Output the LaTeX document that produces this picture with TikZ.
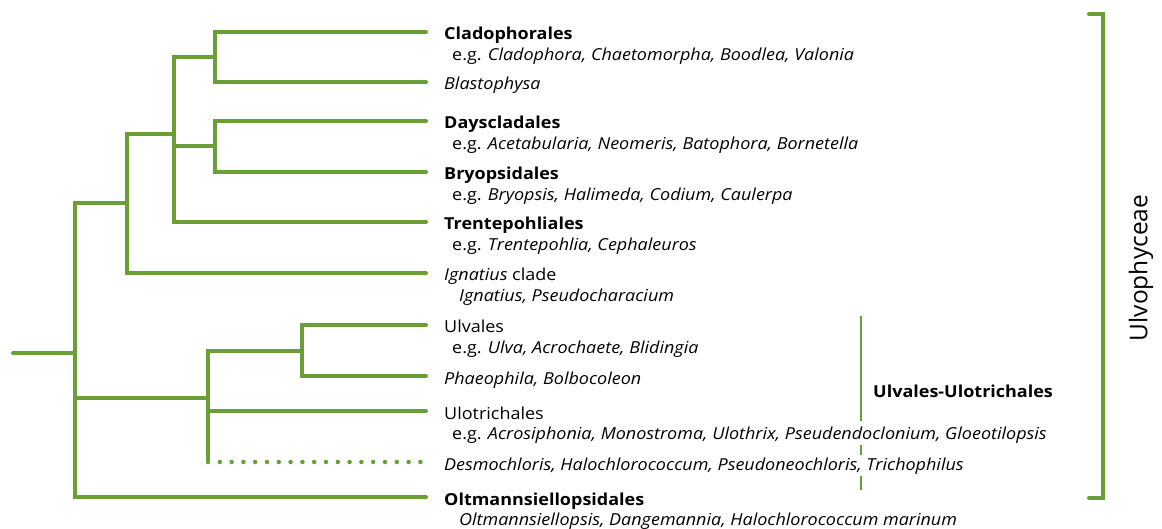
\documentclass[tikz,border=0pt]{standalone}
\usepackage{fontspec}
\setmainfont{Open Sans}[FakeStretch=1.09]
\newfontfamily\classfont{Open Sans}
\usetikzlibrary{positioning}
\definecolor{ulvaGreen}{RGB}{106,158,54}

\begin{document}
\begin{tikzpicture}[x=1pt, y=-1pt,
  branch/.style={draw=ulvaGreen, line width=4pt, line cap=round},
  dotbranch/.style={branch, line width=4.5pt, dash pattern=on 0pt off 11.8pt},
  cladebar/.style={draw=ulvaGreen, line width=2pt},
  order/.style={font=\fontsize{16.5}{19}\selectfont\bfseries, anchor=base west, inner sep=0pt},
  taxon/.style={font=\fontsize{16.5}{19}\selectfont, anchor=base west, inner sep=0pt},
]
  \useasboundingbox (0,0) rectangle (1162,529);

  % internal nodes of the tree
  \coordinate (root) at (13,353);
  \coordinate (nE) at (75,353);
  \coordinate (nD) at (127,203);
  \coordinate (nC) at (174,134);
  \coordinate (nA) at (215,57);
  \coordinate (nB) at (215,146);
  \coordinate (nF) at (208,398);
  \coordinate (nG) at (302,351);

  % leaves
  \coordinate (cla) at (426,32);
  \coordinate (bla) at (426,82);
  \coordinate (das) at (426,121);
  \coordinate (bry) at (426,172);
  \coordinate (tre) at (426,222);
  \coordinate (ign) at (426,273);
  \coordinate (ulv) at (426,325);
  \coordinate (pha) at (426,376);
  \coordinate (ulo) at (426,411);
  \coordinate (des) at (426,462);
  \coordinate (olt) at (426,497);

  % branches
  \draw[branch] (root) -- (nE);
  \draw[branch] (nE) |- (nD);
  \draw[branch] (nE) |- (nF);
  \draw[branch] (nE) |- (olt);
  \draw[branch] (nD) |- (nC);
  \draw[branch] (nD) |- (ign);
  \draw[branch] (nC) |- (nA);
  \draw[branch] (nC) |- (nB);
  \draw[branch] (nC) |- (tre);
  \draw[branch] (nA) |- (cla);
  \draw[branch] (nA) |- (bla);
  \draw[branch] (nB) |- (das);
  \draw[branch] (nB) |- (bry);
  \draw[branch] (nF) |- (nG);
  \draw[branch] (nF) |- (ulo);
  \draw[branch] (nF) -- (nF |- des);
  \draw[dotbranch] (nF |- des) -- (des);
  \draw[branch] (nG) |- (ulv);
  \draw[branch] (nG) |- (pha);

  % labels
  \node[order] (claT) at ([xshift=18pt, yshift=-8pt]cla) {Cladophorales};
  \node[taxon] (claS) at ([xshift=8pt, yshift=-20.5pt]claT.base west) {e.g. \textit{Cladophora, Chaetomorpha, Boodlea, Valonia}};
  \node[taxon] (blaT) at ([xshift=18pt, yshift=-8pt]bla) {\textit{Blastophysa}};
  \node[order] (dasT) at ([xshift=18pt, yshift=-8pt]das) {Dayscladales};
  \node[taxon] (dasS) at ([xshift=8pt, yshift=-20.5pt]dasT.base west) {e.g. \textit{Acetabularia, Neomeris, Batophora, Bornetella}};
  \node[order] (bryT) at ([xshift=18pt, yshift=-8pt]bry) {Bryopsidales};
  \node[taxon] (bryS) at ([xshift=8pt, yshift=-20.5pt]bryT.base west) {e.g. \textit{Bryopsis, Halimeda, Codium, Caulerpa}};
  \node[order] (treT) at ([xshift=18pt, yshift=-8pt]tre) {Trentepohliales};
  \node[taxon] (treS) at ([xshift=8pt, yshift=-20.5pt]treT.base west) {e.g. \textit{Trentepohlia, Cephaleuros}};
  \node[taxon] (ignT) at ([xshift=18pt, yshift=-8pt]ign) {\textit{Ignatius} clade};
  \node[taxon] (ignS) at ([xshift=15pt, yshift=-20.5pt]ignT.base west) {\textit{Ignatius, Pseudocharacium}};
  \node[taxon] (ulvT) at ([xshift=18pt, yshift=-8pt]ulv) {Ulvales};
  \node[taxon] (ulvS) at ([xshift=8pt, yshift=-20.5pt]ulvT.base west) {e.g. \textit{Ulva, Acrochaete, Blidingia}};
  \node[taxon] (phaT) at ([xshift=18pt, yshift=-8pt]pha) {\textit{Phaeophila, Bolbocoleon}};
  \node[taxon] (uloT) at ([xshift=18pt, yshift=-8pt]ulo) {Ulotrichales};
  \node[taxon] (uloS) at ([xshift=8pt, yshift=-20.5pt]uloT.base west) {e.g. \textit{Acrosiphonia, Monostroma, Ulothrix, Pseudendoclonium, Gloeotilopsis}};
  \node[taxon] (desT) at ([xshift=18pt, yshift=-8pt]des) {\textit{Desmochloris, Halochlorococcum, Pseudoneochloris, Trichophilus}};
  \node[order] (oltT) at ([xshift=18pt, yshift=-8pt]olt) {Oltmannsiellopsidales};
  \node[taxon] (oltS) at ([xshift=15pt, yshift=-20.5pt]oltT.base west) {\textit{Oltmannsiellopsis, Dangemannia, Halochlorococcum marinum}};

  % Ulvales-Ulotrichales bar
  \coordinate (barT) at (861,316);
  \coordinate (barB) at (861,490);
  \draw[cladebar, dash pattern=on 105pt off 24pt on 10pt off 21pt on 14pt off 20pt] (barT) -- (barB);
  \node[order, anchor=west] (uuL) at (873,391) {Ulvales-Ulotrichales};

  % Ulvophyceae bracket
  \coordinate (brT) at (1089,14);
  \coordinate (brB) at (1089,498);
  \draw[branch] (brT) -- ++(14,0) |- (brB);
  \node[rotate=90, font=\classfont\fontsize{24.5}{30}\selectfont] (ulvo) at (1141,268) {Ulvophyceae};
\end{tikzpicture}
\end{document}
